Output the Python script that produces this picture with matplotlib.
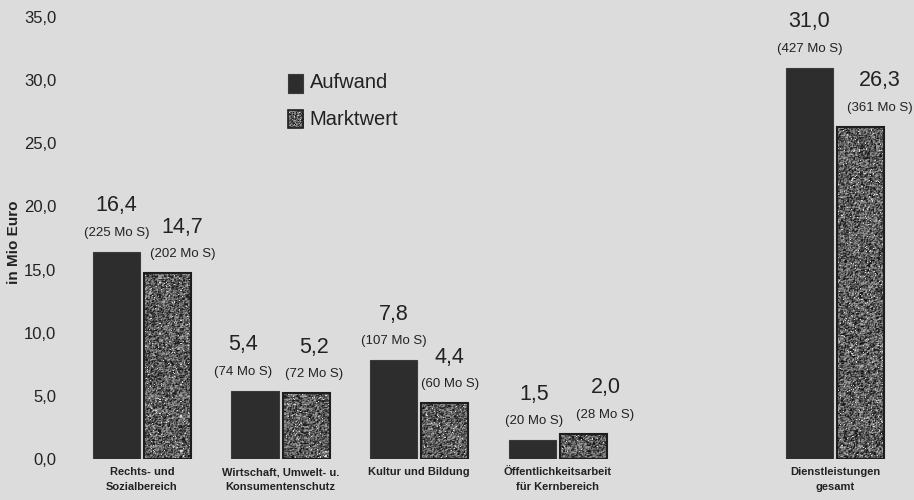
import numpy as np
import matplotlib
matplotlib.use("Agg")
import matplotlib.pyplot as plt
from matplotlib.patches import Rectangle

# ===================== DATA =====================
categories = [
    "Rechts- und\nSozialbereich",
    "Wirtschaft, Umwelt- u.\nKonsumentenschutz",
    "Kultur und Bildung",
    "Öffentlichkeitsarbeit\nfür Kernbereich",
    "Dienstleistungen\ngesamt",
]
positions = [0, 1, 2, 3, 5]          # gap before the total
aufwand = [16.4, 5.4, 7.8, 1.5, 31.0]
marktwert = [14.7, 5.2, 4.4, 2.0, 26.3]
aufwand_ats = [225, 74, 107, 20, 427]     # Mio S
marktwert_ats = [202, 72, 60, 28, 361]

# label nudges in pixels (x) per bar
aufwand_dx = [0, -12, 0, 2, 0]
marktwert_dx = [15, 8, 5, 22, 19]

# ===================== STYLE =====================
plt.rcParams["font.family"] = ["Liberation Sans", "DejaVu Sans"]
BG = "#dcdcdc"
DARK = "#2d2d2d"
TXT = "#222222"
BAR_W = 0.34
OFF = 0.185

fig = plt.figure(figsize=(9.14, 5.0), dpi=100, facecolor=BG)
ax = fig.add_axes([70 / 914, 41 / 500, 835 / 914, 442 / 500])
ax.set_facecolor(BG)

def fmt(v):
    return f"{v:.1f}".replace(".", ",")

# grainy grey fill used for the Marktwert bars
rng = np.random.default_rng(11)
noise = rng.random((520, 940))
smooth = (2 * noise + np.roll(noise, 1, 0) + np.roll(noise, 1, 1)) / 4
speckle = np.clip(0.36 + (smooth - 0.5) * 0.8, 0.08, 0.9)
speckle[rng.random(noise.shape) > 0.98] = 0.85   # scattered white flecks

def textured(patch, extent, transform=None):
    kw = {} if transform is None else {"transform": transform}
    im = ax.imshow(speckle, extent=extent, cmap="gray", vmin=0.0, vmax=1.0,
                   aspect="auto", interpolation="nearest", zorder=2, **kw)
    im.set_clip_path(patch)

x = np.array(positions, dtype=float)
bars_a = ax.bar(x - OFF, aufwand, BAR_W, color=DARK, edgecolor="#3a3a3a",
                linewidth=0.8, zorder=2)
bars_m = ax.bar(x + OFF, marktwert, BAR_W, color="none", edgecolor="#1e1e1e",
                linewidth=1.5, zorder=3)
for b in bars_m:
    textured(b, (-1, 6, 0, 36))

# value labels: euro on top, schilling below
for bars, vals, ats, dxs in [(bars_a, aufwand, aufwand_ats, aufwand_dx),
                             (bars_m, marktwert, marktwert_ats, marktwert_dx)]:
    for b, v, s, dx in zip(bars, vals, ats, dxs):
        cx = b.get_x() + b.get_width() / 2
        ax.annotate(fmt(v), (cx, v), xytext=(dx, 46), textcoords="offset pixels",
                    ha="center", va="center", fontsize=15.5, color=TXT)
        ax.annotate(f"({s} Mo S)", (cx, v), xytext=(dx, 19), textcoords="offset pixels",
                    ha="center", va="center", fontsize=9.5, color=TXT)

ax.set_xlim(-0.52, 5.505)
ax.set_ylim(0, 35)
ax.set_yticks(np.arange(0, 36, 5))
ax.set_yticklabels([fmt(t) for t in np.arange(0, 36, 5)], fontsize=12, color=TXT)
ax.set_xticks(positions)
ax.set_xticklabels(categories, fontsize=8, fontweight="bold", color=TXT, linespacing=1.55)
ax.tick_params(axis="y", length=0, pad=10)
ax.tick_params(axis="x", length=0, pad=6)
for sp in ax.spines.values():
    sp.set_visible(False)

fig.text(14 / 914, 1 - 242 / 500, "in Mio Euro", rotation=90, ha="center", va="center",
         fontsize=11, fontweight="bold", color=TXT)

# legend
sq_a = Rectangle((0.261, 0.828), 0.018, 0.043, transform=ax.transAxes,
                 facecolor=DARK, edgecolor="#3a3a3a", linewidth=0.8, zorder=4)
ax.add_patch(sq_a)
sq_m = Rectangle((0.261, 0.749), 0.018, 0.041, transform=ax.transAxes,
                 facecolor="none", edgecolor="#1e1e1e", linewidth=1.2, zorder=5)
ax.add_patch(sq_m)
textured(sq_m, (0.2, 0.35, 0.7, 0.85), transform=ax.transAxes)
ax.text(0.287, 0.851, "Aufwand", transform=ax.transAxes, ha="left", va="center",
        fontsize=14.5, color=TXT)
ax.text(0.287, 0.767, "Marktwert", transform=ax.transAxes, ha="left", va="center",
        fontsize=14.5, color=TXT)

ax.set_xlim(-0.52, 5.505)
ax.set_ylim(0, 35)

fig.savefig("out.png", dpi=100, facecolor=BG)
